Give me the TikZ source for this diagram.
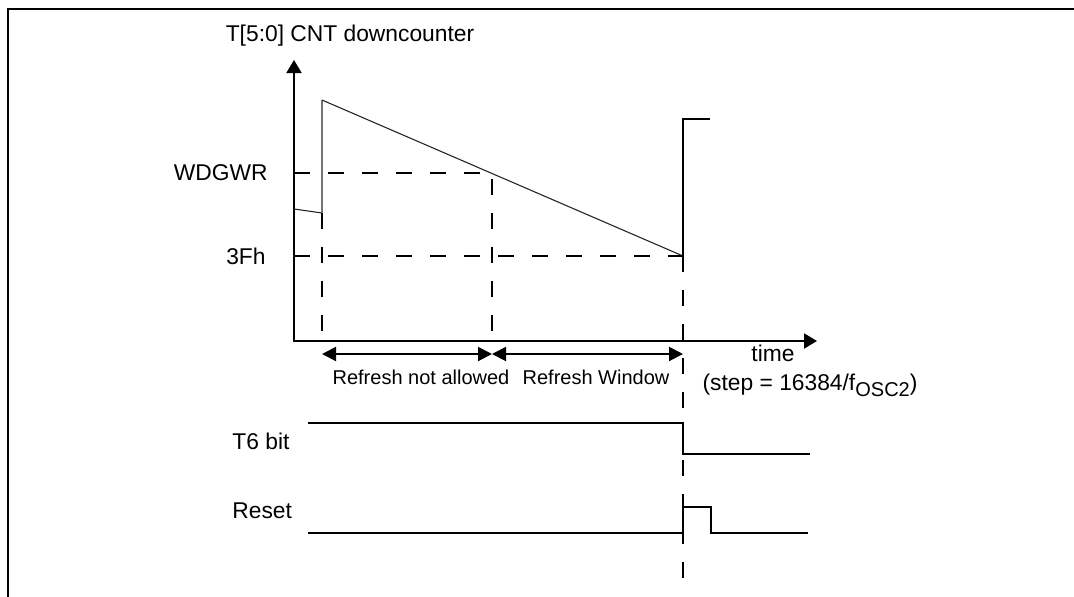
\documentclass[tikz,border=0pt]{standalone}
\usepackage{fontspec}
\setmainfont{Liberation Sans}
\usepackage{tikz}
\usetikzlibrary{arrows.meta}
\tikzset{
  wdframe/.style={line width=1.25pt},
  wdaxis/.style={line width=1pt, line join=miter,
                 {Triangle[length=6.5pt,width=7.5pt]}-{Triangle[length=6.5pt,width=7.5pt]}},
  wdspan/.style={line width=1pt, {Triangle[length=7pt,width=7pt]}-{Triangle[length=7pt,width=7pt]}},
  wdguide/.style={line width=1pt, dash pattern=on 8pt off 9pt},
  wdramp/.style={line width=0.55pt, black!85},
  wdjump/.style={line width=0.55pt, black!55},
  wdsig/.style={line width=1pt, line join=miter},
  wdlabel/.style={font=\fontsize{11.4}{13.7}\selectfont, inner sep=0pt},
  wdsmall/.style={font=\fontsize{10}{12}\selectfont, inner sep=0pt},
}
\newcommand{\wdsub}[1]{\raisebox{-3pt}{\fontsize{10}{12}\selectfont #1}}

\begin{document}
\begin{tikzpicture}[x=0.5pt,y=-0.5pt]
\useasboundingbox (0,0) rectangle (1074,596);
% frame, cut at the right and at the bottom
\draw[wdframe] (1080,9) -- (8,9) -- (8,600);

\coordinate (O) at (294,341); \coordinate (ytop) at (294,60); \coordinate (xend) at (817,341);
\coordinate (t1) at (322,341); \coordinate (t2) at (492,341); \coordinate (t3) at (683,341);
\coordinate (wdg) at (294,173); \coordinate (fh) at (294,256); \coordinate (tend) at (683,585);

% counter
\draw[wdaxis] (ytop) -- (O) -- (xend);
\coordinate (c0) at (294,209); \coordinate (c1) at (322,213); \coordinate (c2) at (322,100);
\coordinate (c3) at (683,256); \coordinate (r0) at (683,119); \coordinate (r1) at (710,119);
\draw[wdramp] (c0) -- (c1);
\draw[wdjump] (c1) -- (c2);
\draw[wdramp] (c2) -- (c3);
\draw[wdsig] (c3) -- (r0) -- (r1);

% guides
\draw[wdguide] (wdg) -- (t2 |- wdg) -- (t2);
\draw[wdguide] (fh) -- (c3);
\draw[wdguide] (c1) -- (t1);
\draw[wdguide] (c3) -- (tend);

% windows
\coordinate (s1) at (322,354); \coordinate (s2) at (492,354); \coordinate (s3) at (683,354);
\draw[wdspan] (s1) -- (s2);
\draw[wdspan] (s2) -- (s3);

\node[wdlabel] (ylab) at (350,36) {T[5:0] CNT downcounter};
\node[wdlabel, anchor=east] (wlab) at (268,173) {WDGWR};
\node[wdlabel, anchor=east] (flab) at (266,256) {3Fh};
\node[wdsmall] (nolab) at (421,377) {Refresh not allowed};
\node[wdsmall] (winlab) at (596,377) {Refresh Window};
\node[wdlabel, anchor=base] (tlab) at (773,361) {time};
\node[wdlabel, anchor=base] (steplab) at (810,390) {(step = 16384/f\wdsub{OSC2})};

% T6 bit and reset
\node[wdlabel, anchor=west] (t6lab) at (232,441) {T6 bit};
\node[wdlabel, anchor=west] (rstlab) at (232,511) {Reset};
\coordinate (a0) at (308,423); \coordinate (a1) at (683,423); \coordinate (a2) at (683,454); \coordinate (a3) at (810,454);
\draw[wdsig] (a0) -- (a1) -- (a2) -- (a3);
\coordinate (b0) at (308,533); \coordinate (b1) at (683,533); \coordinate (b2) at (683,507);
\coordinate (b3) at (711,507); \coordinate (b4) at (711,533); \coordinate (b5) at (808,533);
\draw[wdsig] (b0) -- (b1) -- (b2) -- (b3) -- (b4) -- (b5);
\end{tikzpicture}
\end{document}
